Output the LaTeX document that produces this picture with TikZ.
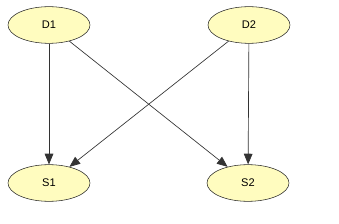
\documentclass[tikz,border=0pt]{standalone}
\usepackage{fontspec}
\setmainfont{Liberation Sans}
\usetikzlibrary{arrows.meta,shapes.geometric}

\begin{document}
\begin{tikzpicture}[x=0.75pt,y=-0.75pt,
    state/.style={ellipse,draw=black!85,fill=yellow!25,minimum width=61.5pt,minimum height=27.5pt,inner sep=0pt,font=\fontsize{8.3}{10}\selectfont},
    edge/.style={black!80,line width=0.5pt,-{Triangle[length=8pt,width=6.5pt]}}]
        \useasboundingbox (0,0) rectangle (339,224);
        \node[state] (d1) at (49,25) {D1};
        \node[state] (d2) at (249,25) {D2};
        \node[state] (s1) at (49,183) {S1};
        \node[state] (s2) at (248,183) {S2};
        \draw[edge] (d1)--(s1);
        \draw[edge] (d1)--(s2);
        \draw[edge] (d2)--(s1);
        \draw[edge] (d2)--(s2);
      \end{tikzpicture}
\end{document}
